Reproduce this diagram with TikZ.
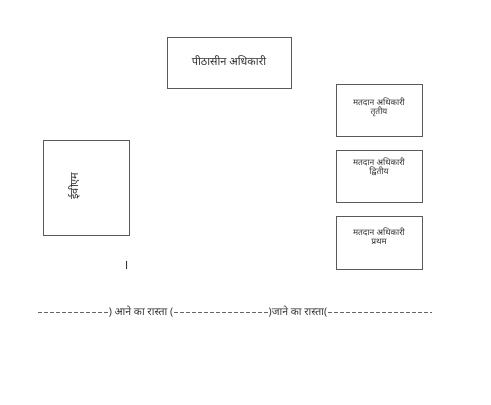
\documentclass[tikz,border=0pt]{standalone}
\usepackage{fontspec}
\newfontfamily\hindi[Script=Devanagari]{Noto Sans}
\begin{document}
\begin{tikzpicture}[x=1pt,y=-1pt,
  box/.style={draw=black!65,line width=0.6pt,fill=white},
  lbl/.style={font=\hindi\fontsize{8.5}{9}\selectfont,align=center,text=black!80},
  dashline/.style={draw=black!60,dash pattern=on 4pt off 2pt,line width=0.6pt},
  way/.style={font=\hindi\fontsize{10.5}{11}\selectfont,text=black!80,inner sep=0.5pt}]
\useasboundingbox (0,0) rectangle (491,405);
\draw[box] (167,37) rectangle (291,88);
\node[lbl,font=\hindi\fontsize{11}{12}\selectfont] (po) at (229,61) {पीठासीन अधिकारी};
\draw[box] (336,84) rectangle (422,136);
\node[lbl] (p3) at (379,107) {मतदान अधिकारी\\तृतीय};
\draw[box] (336,150) rectangle (422,202);
\node[lbl] (p2) at (379,167) {मतदान अधिकारी\\द्वितीय};
\draw[box] (336,216) rectangle (422,269);
\node[lbl] (p1) at (379,236) {मतदान अधिकारी\\प्रथम};
\draw[box] (43,140) rectangle (129,235);
\node[lbl,rotate=90,font=\hindi\fontsize{11}{12}\selectfont] (evm) at (74,186) {ईवीएम};
\node[lbl,font=\hindi\fontsize{13}{14}\selectfont] (mark) at (126,265) {।};
\coordinate (l0) at (38,312);
\coordinate (l1) at (432,312);
\node[way] (in) at (141,312) {) आने का रास्ता (};
\node[way] (out) at (298,312) {)जाने का रास्ता(};
\draw[dashline] (l0) -- (in.west);
\draw[dashline] (in.east) -- (out.west);
\draw[dashline] (out.east) -- (l1);
\end{tikzpicture}
\end{document}
